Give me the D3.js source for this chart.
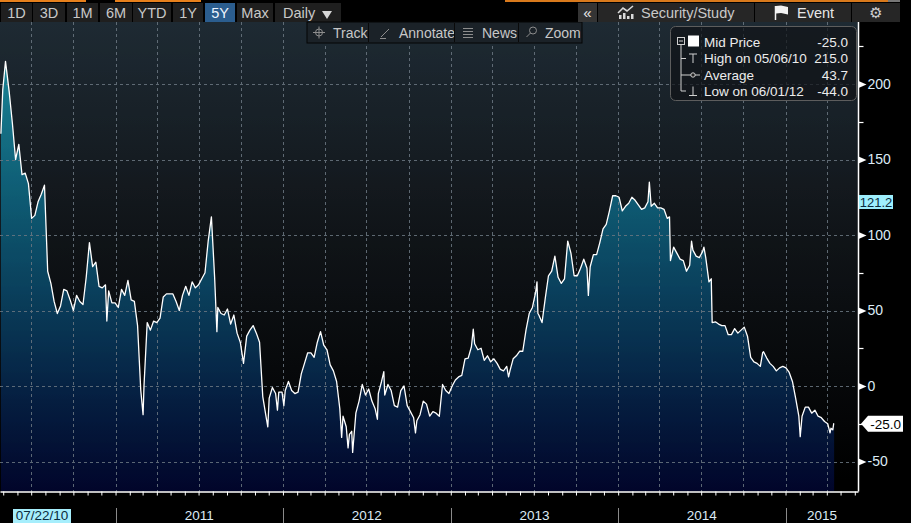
<!DOCTYPE html>
<html><head><meta charset="utf-8">
<script src="https://cdn.jsdelivr.net/npm/d3@7"></script>
<style>
body{margin:0;background:#000;overflow:hidden}
svg{display:block;font-family:"Liberation Sans",Arial,sans-serif}
</style>
</head><body>
<svg id="c" width="911" height="523"></svg>
<script>
// ---------------- DATA ----------------
const dates = [
"2010-04-26","2010-04-30","2010-05-06","2010-05-14","2010-05-21","2010-05-28","2010-06-04","2010-06-11","2010-06-18","2010-06-25",
"2010-07-02","2010-07-09","2010-07-16","2010-07-23","2010-07-30","2010-08-06","2010-08-13","2010-08-20","2010-08-27","2010-09-03",
"2010-09-10","2010-09-17","2010-09-24","2010-10-01","2010-10-08","2010-10-15","2010-10-22","2010-10-29","2010-11-05","2010-11-12",
"2010-11-19","2010-11-26","2010-12-03","2010-12-10","2010-12-13","2010-12-17","2010-12-24","2010-12-31","2011-01-07","2011-01-14",
"2011-01-21","2011-01-28","2011-02-04","2011-02-11","2011-02-18","2011-02-25","2011-03-02","2011-03-04","2011-03-11","2011-03-18",
"2011-03-25","2011-04-01","2011-04-08","2011-04-15","2011-04-22","2011-04-29","2011-05-06","2011-05-13","2011-05-20","2011-05-27",
"2011-06-03","2011-06-10","2011-06-17","2011-06-24","2011-07-01","2011-07-08","2011-07-15","2011-07-22","2011-07-29","2011-08-05",
"2011-08-10","2011-08-12","2011-08-19","2011-08-26","2011-09-02","2011-09-09","2011-09-16","2011-09-23","2011-09-30","2011-10-07",
"2011-10-14","2011-10-21","2011-10-28","2011-11-04","2011-11-11","2011-11-18","2011-11-25","2011-11-29","2011-12-02","2011-12-09",
"2011-12-16","2011-12-20","2011-12-23","2011-12-30","2012-01-03","2012-01-06","2012-01-13","2012-01-20","2012-01-27","2012-02-03",
"2012-02-10","2012-02-17","2012-02-24","2012-03-02","2012-03-09","2012-03-16","2012-03-23","2012-03-30","2012-04-06","2012-04-13",
"2012-04-20","2012-04-27","2012-05-04","2012-05-08","2012-05-11","2012-05-18","2012-05-22","2012-05-25","2012-05-30","2012-06-01",
"2012-06-08","2012-06-15","2012-06-22","2012-06-29","2012-07-06","2012-07-13","2012-07-20","2012-07-25","2012-07-27","2012-08-03",
"2012-08-08","2012-08-10","2012-08-17","2012-08-24","2012-08-31","2012-09-07","2012-09-14","2012-09-21","2012-09-28","2012-10-05",
"2012-10-12","2012-10-16","2012-10-19","2012-10-26","2012-11-02","2012-11-09","2012-11-16","2012-11-23","2012-11-30","2012-12-07",
"2012-12-14","2012-12-21","2012-12-28","2013-01-04","2013-01-11","2013-01-18","2013-01-25","2013-02-01","2013-02-08","2013-02-15",
"2013-02-19","2013-02-22","2013-03-01","2013-03-08","2013-03-15","2013-03-22","2013-03-29","2013-04-05","2013-04-12","2013-04-19",
"2013-04-26","2013-05-03","2013-05-07","2013-05-10","2013-05-17","2013-05-24","2013-05-31","2013-06-07","2013-06-14","2013-06-21",
"2013-06-28","2013-07-05","2013-07-08","2013-07-10","2013-07-12","2013-07-19","2013-07-26","2013-08-02","2013-08-09","2013-08-16",
"2013-08-23","2013-08-30","2013-09-06","2013-09-13","2013-09-20","2013-09-27","2013-10-04","2013-10-11","2013-10-18","2013-10-25",
"2013-10-28","2013-11-01","2013-11-08","2013-11-15","2013-11-22","2013-11-29","2013-12-06","2013-12-13","2013-12-20","2013-12-27",
"2014-01-03","2014-01-10","2014-01-17","2014-01-24","2014-01-31","2014-02-07","2014-02-14","2014-02-21","2014-02-28","2014-03-07",
"2014-03-10","2014-03-14","2014-03-21","2014-03-28","2014-04-04","2014-04-11","2014-04-18","2014-04-23","2014-04-25","2014-05-02",
"2014-05-09","2014-05-16","2014-05-23","2014-05-30","2014-06-06","2014-06-10","2014-06-13","2014-06-20","2014-06-27","2014-07-04",
"2014-07-07","2014-07-11","2014-07-18","2014-07-23","2014-07-25","2014-08-01","2014-08-08","2014-08-15","2014-08-22","2014-08-29",
"2014-09-05","2014-09-12","2014-09-19","2014-09-26","2014-10-03","2014-10-10","2014-10-17","2014-10-24","2014-10-31","2014-11-07",
"2014-11-12","2014-11-14","2014-11-21","2014-11-28","2014-12-05","2014-12-12","2014-12-19","2014-12-26","2015-01-02","2015-01-09",
"2015-01-16","2015-01-23","2015-01-30","2015-02-02","2015-02-06","2015-02-13","2015-02-20","2015-02-27","2015-03-06","2015-03-13",
"2015-03-20","2015-03-27","2015-04-03","2015-04-08","2015-04-10","2015-04-14","2015-04-16","2015-04-17"
];
const midPrice = [
167,196,215,195,174,150,160,140,141,134,
111,113,122,127,133,76,68,56,48,53,
64,63,57,50,60,56,54,72,95,79,
82,66,65,67,43,63,55,55,52,64,
60,70,57,56,40,-3,-19,0,42,37,
43,42,45,59,61,61,61,56,50,60,
66,60,69,65,67,71,75,96,112,72,
36,52,48,47,51,41,47,35,29,15,
33,37,40,35,29,-7,-20,-27,-8,-1,
-5,-16,-4,-4,-13,-3,3,-3,-5,-4,
8,15,22,22,19,29,36,27,24,14,
10,3,-15,-34,-20,-27,-41,-32,-30,-44,
-18,-10,1,-6,-2,-10,-15,-22,-5,3,
9.5,-6,1,-3,-13,-14,-3,0,-13,-17,
-21,-31,-23,-19,-10,-12,-20,-17,-18,-20,
1,-3,-5,0,4,6,7,18,18.5,26,
37.6,28,24,25,17,20,16,18,15,11,
10,13,6,10,18,20,23,23,37,48,
52,62,69,48,47,42,58,73,76,86,
72,68,71,96,88,73,73,78,84,78,
60,79,87,87,95,104,107,116,126,126,
125,116,119,121,125,123,120,117,118,122,
135,119,121,118,118,117,111,112,83,92,
88,84,83,76,80,96,90,86,85,89,
92,85,69,71,42,42.5,41,40,40,34,
34,38,35,37,39,33,19,16,15,13,
22,22.7,18.5,15,13,10,12,13,12,9,
3,-8,-20,-33.5,-20,-14,-14,-18,-16,-20,
-21,-23.5,-25,-31,-28,-29,-25,-25
];
const xDomain = ["2010-04-24","2015-06-08"];
const yTicks = [-50,0,50,100,150,200];
const yMinorTicks = [-25,25,75,125,175,225];
const yearLabels = ["2011","2012","2013","2014","2015"];
const rangeButtons = ["1D","3D","1M","6M","YTD","1Y","5Y","Max"];
const activeRange = "5Y";
const periodLabel = "Daily";
const toolButtons = ["Track","Annotate","News","Zoom"];
const legendLabels = ["Mid Price","High on 05/06/10","Average","Low on 06/01/12"];
const legendValues = ["-25.0","215.0","43.7","-44.0"];
const trackDate = "07/22/10";
const trackValue = 121.2;
const lastValue = -25.0;

// ---------------- LAYOUT ----------------
const W = 911, H = 523;
const L = 0, R = 858.5, T = 22, B = 491.5;
const parse = d3.timeParse("%Y-%m-%d");
const data = dates.map((d,i)=>({date:parse(d), v:midPrice[i]}));
const fmt1 = v => v.toFixed(1);

const svg = d3.select("#c");
const defs = svg.append("defs");

const x = d3.scaleTime().domain(xDomain.map(parse)).range([0, 858]);
const y = d3.scaleLinear().domain([-50,200]).range([461.5,84]);

const bg = defs.append("linearGradient").attr("id","bg").attr("gradientUnits","userSpaceOnUse")
  .attr("x1",0).attr("x2",0).attr("y1",T).attr("y2",B);
[[0,"#1f2b34"],[0.45,"#111519"],[1,"#000000"]].forEach(s=>bg.append("stop").attr("offset",s[0]).attr("stop-color",s[1]));
const ag = defs.append("linearGradient").attr("id","ag").attr("gradientUnits","userSpaceOnUse")
  .attr("x1",0).attr("x2",0).attr("y1",55).attr("y2",B);
[[0,"#1b8597"],[0.33,"#0f5b73"],[0.59,"#0a3a57"],[0.79,"#061f41"],[1,"#02062b"]].forEach(s=>ag.append("stop").attr("offset",s[0]).attr("stop-color",s[1]));
defs.append("clipPath").attr("id","pc").append("rect").attr("x",L).attr("y",T).attr("width",R-L).attr("height",B-T);

svg.append("rect").attr("width",W).attr("height",H).attr("fill","#000");
svg.append("rect").attr("x",L).attr("y",T).attr("width",R-L).attr("height",B-T).attr("fill","url(#bg)");

const plot = svg.append("g").attr("clip-path","url(#pc)");

plot.append("path").datum(data)
  .attr("d", d3.area().x(d=>x(d.date)).y0(B).y1(d=>y(d.v)))
  .attr("fill","url(#ag)");

const grid = plot.append("g").attr("stroke","#6c7782").attr("stroke-width",1).attr("stroke-dasharray","3,3").attr("opacity",0.85);
const quarterTicks = x.ticks(d3.timeMonth.every(3));
grid.selectAll("line.v").data(quarterTicks).join("line")
  .attr("x1",d=>Math.round(x(d))+0.5).attr("x2",d=>Math.round(x(d))+0.5).attr("y1",T).attr("y2",B);
grid.selectAll("line.h").data(yTicks).join("line")
  .attr("x1",L).attr("x2",R).attr("y1",d=>Math.round(y(d))+0.5).attr("y2",d=>Math.round(y(d))+0.5);

plot.append("path").datum(data)
  .attr("d", d3.line().x(d=>x(d.date)).y(d=>y(d.v)))
  .attr("fill","none").attr("stroke","#ffffff").attr("stroke-width",1.3).attr("stroke-linejoin","round");

svg.append("line").attr("x1",R).attr("x2",R).attr("y1",T).attr("y2",B).attr("stroke","#fff").attr("stroke-width",1.5);

// bottom axis (monthly ticks)
const xAxis = d3.axisBottom(x).ticks(d3.timeMonth.every(1)).tickFormat("").tickSize(4).tickSizeOuter(0);
const gx = svg.append("g").attr("transform",`translate(0,${B})`).call(xAxis);
gx.select(".domain").attr("stroke","#fff").attr("stroke-width",1.5);
gx.selectAll(".tick line").attr("stroke","#fff");

// year separators & labels
const yearStarts = yearLabels.map(s=>parse(s+"-01-01"));
svg.append("g").selectAll("line").data(yearStarts).join("line")
  .attr("x1",d=>Math.round(x(d))+0.5).attr("x2",d=>Math.round(x(d))+0.5)
  .attr("y1",508).attr("y2",H).attr("stroke","#8a8a8a").attr("stroke-width",1);
svg.append("g").selectAll("text").data(yearLabels).join("text")
  .attr("x",(d,i)=>{const a=x(yearStarts[i]); const b=i<yearStarts.length-1?x(yearStarts[i+1]):R; return (a+b)/2;})
  .attr("y",520).attr("text-anchor","middle").attr("font-size",13.5).attr("fill","#dcebf6").text(d=>d);

// track date label
svg.append("rect").attr("x",13).attr("y",509).attr("width",58).attr("height",14).attr("fill","#a6eefc");
svg.append("text").attr("x",42).attr("y",520).attr("text-anchor","middle").attr("font-size",13.5)
  .attr("fill","#0b2b3d").text(trackDate);

// right axis
const yAxis = d3.axisRight(y).tickValues(yTicks).tickSize(0).tickPadding(9).tickFormat(d=>String(d));
const gy = svg.append("g").attr("transform",`translate(${R},0)`).call(yAxis);
gy.select(".domain").remove();
gy.selectAll("text").attr("font-size",14).attr("fill","#dcebf6").attr("font-family","Liberation Sans, Arial, sans-serif");
gy.selectAll(".tick").append("path").attr("d","M0,-3.5L0,3.5L8,0Z").attr("fill","#fff");
svg.append("g").selectAll("line").data(yMinorTicks).join("line")
  .attr("x1",R).attr("x2",R+5).attr("y1",d=>Math.round(y(d))+0.5).attr("y2",d=>Math.round(y(d))+0.5)
  .attr("stroke","#fff").attr("stroke-width",1.2);

// track value label
const ty = y(trackValue);
svg.append("rect").attr("x",859).attr("y",ty-8).attr("width",34).attr("height",14).attr("fill","#9eeffd");
svg.append("text").attr("x",876).attr("y",ty+4).attr("text-anchor","middle").attr("font-size",13).attr("fill","#0b2b3d").text(fmt1(trackValue));

// last value label
const ly = y(lastValue);
svg.append("path").attr("d",`M861,${ly}L868,${ly-8}L903,${ly-8}L903,${ly+8}L868,${ly+8}Z`).attr("fill","#fff");
svg.append("text").attr("x",901).attr("y",ly+5).attr("text-anchor","end").attr("font-size",13.5).attr("fill","#000").text(fmt1(lastValue));

// legend box
const lg = svg.append("g");
lg.append("rect").attr("x",670.5).attr("y",26.5).attr("width",186).attr("height",74).attr("rx",5)
  .attr("fill","rgba(16,20,24,0.72)").attr("stroke","#5d5d5d");
const rowY = [41.5,58,74.5,90.5];
lg.selectAll("text.l").data(legendLabels).join("text").attr("x",704).attr("y",(d,i)=>rowY[i]+5)
  .attr("font-size",13.5).attr("fill","#ececec").text(d=>d);
lg.selectAll("text.v").data(legendValues).join("text").attr("x",848).attr("y",(d,i)=>rowY[i]+5)
  .attr("text-anchor","end").attr("font-size",13.5).attr("fill","#ececec").text(d=>d);
const ic = lg.append("g").attr("stroke","#d0d0d0").attr("fill","none").attr("stroke-width",1);
ic.append("rect").attr("x",677.5).attr("y",37.5).attr("width",7).attr("height",7);
ic.append("line").attr("x1",679).attr("x2",683).attr("y1",41).attr("y2",41);
ic.append("line").attr("x1",681).attr("x2",681).attr("y1",45).attr("y2",rowY[3]+0.5);
rowY.slice(1).forEach(r=>ic.append("line").attr("x1",681).attr("x2",686).attr("y1",r+0.5).attr("y2",r+0.5));
lg.append("rect").attr("x",688).attr("y",35.5).attr("width",11).attr("height",11).attr("fill","#fff");
ic.append("line").attr("x1",689).attr("x2",697).attr("y1",rowY[1]-4).attr("y2",rowY[1]-4);
ic.append("line").attr("x1",693).attr("x2",693).attr("y1",rowY[1]-4).attr("y2",rowY[1]+5);
ic.append("line").attr("x1",686).attr("x2",700).attr("y1",rowY[2]+0.5).attr("y2",rowY[2]+0.5);
ic.append("circle").attr("cx",693).attr("cy",rowY[2]+0.5).attr("r",2.2).attr("fill","#222");
ic.append("line").attr("x1",693).attr("x2",693).attr("y1",rowY[3]-4).attr("y2",rowY[3]+5);
ic.append("line").attr("x1",689).attr("x2",697).attr("y1",rowY[3]+5).attr("y2",rowY[3]+5);

// ---------------- TOOLBARS ----------------
const tb = svg.append("g");
[[0,86,"#e7801c"],[115,201,"#e7801c"],[505,888,"#d8791c"],[888,900,"#777"]].forEach(s=>
  tb.append("rect").attr("x",s[0]).attr("y",0).attr("width",s[1]-s[0]).attr("height",2).attr("fill",s[2]));
const bx = [1,33,67,100,133,173,205,237], bw = [31,32,31,32,38,30,30,36];
rangeButtons.forEach((b,i)=>{
  const on = b===activeRange;
  tb.append("rect").attr("x",bx[i]).attr("y",3).attr("width",bw[i]).attr("height",19).attr("fill",on?"#2b5d8e":"#1f1f1f");
  tb.append("text").attr("x",bx[i]+bw[i]/2).attr("y",18).attr("text-anchor","middle").attr("font-size",14.5)
    .attr("fill",on?"#eef5ff":"#c9c9c9").text(b);
});
tb.append("rect").attr("x",275).attr("y",3).attr("width",66).attr("height",19).attr("fill","#1f1f1f");
tb.append("text").attr("x",283).attr("y",18).attr("font-size",14.5).attr("fill","#c9c9c9").text(periodLabel);
tb.append("path").attr("d","M322,11L332,11L327,19Z").attr("fill","#d6d6d6");

const t2x = [307,368,454,518,582];
tb.append("rect").attr("x",307).attr("y",22).attr("width",275).attr("height",21).attr("fill","#1b2228").attr("stroke","#050505");
toolButtons.forEach((b,i)=>{
  if(i>0) tb.append("line").attr("x1",t2x[i]+0.5).attr("x2",t2x[i]+0.5).attr("y1",23).attr("y2",42).attr("stroke","#0a0a0a");
  tb.append("text").attr("x",[333,399,482,545][i]).attr("y",37.5).attr("font-size",14).attr("fill","#c7c7c7").text(b);
});
const g2 = tb.append("g").attr("stroke","#8d8d8d").attr("fill","none").attr("stroke-width",1);
g2.append("circle").attr("cx",319).attr("cy",32.5).attr("r",3.5);
g2.append("line").attr("x1",313).attr("x2",325).attr("y1",32.5).attr("y2",32.5);
g2.append("line").attr("x1",319).attr("x2",319).attr("y1",26.5).attr("y2",38.5);
g2.append("line").attr("x1",381).attr("x2",389).attr("y1",37).attr("y2",29);
g2.append("line").attr("x1",380).attr("x2",386).attr("y1",38.5).attr("y2",38.5);
[28.5,31.5,34.5,37.5].forEach(v=>g2.append("line").attr("x1",463).attr("x2",473).attr("y1",v).attr("y2",v));
g2.append("circle").attr("cx",533).attr("cy",30.5).attr("r",3.5);
g2.append("line").attr("x1",530.5).attr("x2",526.5).attr("y1",33).attr("y2",37);

tb.append("rect").attr("x",578).attr("y",3).attr("width",19).attr("height",19).attr("fill","#343434");
tb.append("text").attr("x",587.5).attr("y",17.5).attr("text-anchor","middle").attr("font-size",15).attr("fill","#e8e8e8").text("«");
tb.append("rect").attr("x",598).attr("y",3).attr("width",156).attr("height",19).attr("fill","#262626");
tb.append("text").attr("x",641).attr("y",18).attr("font-size",14.5).attr("fill","#c9c9c9").text("Security/Study");
const si = tb.append("g").attr("fill","#d8d8d8");
si.append("path").attr("d","M618,13L623,8L627,11L633,6").attr("stroke","#d8d8d8").attr("stroke-width",1.6).attr("fill","none");
[[619,15,4],[623,13,6],[627,16,3],[631,14,5]].forEach(b=>si.append("rect").attr("x",b[0]).attr("y",b[1]).attr("width",2.5).attr("height",b[2]));
tb.append("rect").attr("x",755).attr("y",3).attr("width",96).attr("height",19).attr("fill","#262626");
tb.append("line").attr("x1",775.5).attr("x2",775.5).attr("y1",6).attr("y2",20).attr("stroke","#f2f2f2").attr("stroke-width",1.5);
tb.append("path").attr("d","M776,6L781,5.5L788,7L788,14.5L781,13L776,13.5Z").attr("fill","#f2f2f2");
tb.append("text").attr("x",797).attr("y",18).attr("font-size",14.5).attr("fill","#e6e6e6").text("Event");
tb.append("rect").attr("x",852).attr("y",3).attr("width",48).attr("height",19).attr("fill","#262626");
tb.append("text").attr("x",876).attr("y",18).attr("text-anchor","middle").attr("font-size",15)
  .attr("font-family","DejaVu Sans").attr("fill","#cfcfcf").text("⚙");
</script>
</body></html>
